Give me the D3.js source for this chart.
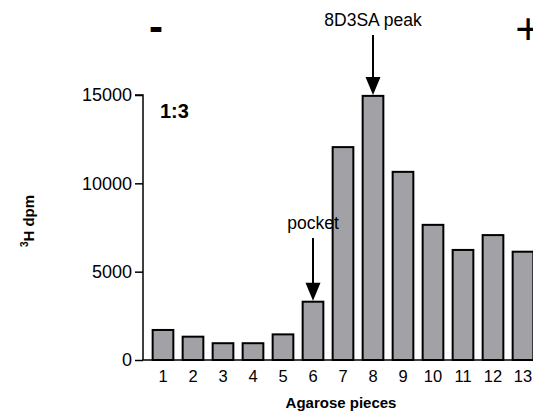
<!DOCTYPE html>
<html>
<head>
<meta charset="utf-8">
<script src="https://cdn.jsdelivr.net/npm/d3@7"></script>
<style>
  body { margin: 0; background: #fff; }
  svg { display: block; font-family: Arial, "Liberation Sans", sans-serif; }
</style>
</head>
<body>
<div id="chart"></div>
<script>
const pieces = ['1', '2', '3', '4', '5', '6', '7', '8', '9', '10', '11', '12', '13'];
const dpm = [1700, 1320, 950, 950, 1450, 3300, 12050, 14950, 10650, 7650, 6230, 7070, 6130];
const yTicks = [0, 5000, 10000, 15000];

const width = 533;
const height = 414;
const margin = { top: 95, left: 143, bottom: 54 };

const svg = d3
  .select('#chart')
  .append('svg')
  .attr('width', width)
  .attr('height', height);

const x = d3
  .scaleBand()
  .domain(pieces)
  .range([margin.left + 5, margin.left + 395])
  .paddingInner(0.31)
  .paddingOuter(0.155);

const y = d3
  .scaleLinear()
  .domain([0, 15000])
  .range([height - margin.bottom, margin.top]);

// bars
svg
  .append('g')
  .selectAll('rect')
  .data(dpm)
  .join('rect')
  .attr('x', (d, i) => x(pieces[i]))
  .attr('y', d => y(d))
  .attr('width', x.bandwidth())
  .attr('height', d => y(0) - y(d))
  .attr('fill', '#a2a2a6')
  .attr('stroke', '#000')
  .attr('stroke-width', 2);

// y axis
const yAxis = svg
  .append('g')
  .attr('transform', `translate(${margin.left}, 0)`)
  .call(d3.axisLeft(y).tickValues(yTicks).tickSize(8).tickPadding(3).tickFormat(d3.format('d')));

yAxis.select('.domain').attr('stroke-width', 1.5).attr('d', `M-8,${y(15000)}H0V${y(0)}`);
yAxis.selectAll('.tick line').attr('stroke-width', 1.5);
yAxis.selectAll('.tick text').style('font-size', '18px').attr('fill', '#000');

// x axis
const xAxis = svg
  .append('g')
  .attr('transform', `translate(0, ${y(0)})`)
  .call(d3.axisBottom(x).tickSize(0).tickPadding(10));

xAxis.select('.domain').attr('stroke-width', 1.5).attr('d', `M${margin.left},0H${width}`);
xAxis.selectAll('.tick text').style('font-size', '16.5px').attr('fill', '#000');

// axis titles
svg
  .append('text')
  .attr('x', 341)
  .attr('y', 408)
  .attr('text-anchor', 'middle')
  .style('font-size', '15px')
  .style('font-weight', 'bold')
  .text('Agarose pieces');

const yTitle = svg
  .append('text')
  .attr('transform', 'translate(32, 221) rotate(-90)')
  .attr('text-anchor', 'middle')
  .style('font-size', '15px')
  .style('font-weight', 'bold');
yTitle.append('tspan').attr('dy', '-0.45em').style('font-size', '10px').text('3');
yTitle.append('tspan').attr('dy', '0.45em').text('H dpm');

// annotations
svg
  .append('text')
  .attr('x', 160)
  .attr('y', 118)
  .style('font-size', '20px')
  .style('font-weight', 'bold')
  .text('1:3');

svg
  .append('text')
  .attr('x', 156)
  .attr('y', 41)
  .attr('text-anchor', 'middle')
  .style('font-size', '42px')
  .style('font-weight', 'bold')
  .text('-');

svg
  .append('text')
  .attr('x', 528)
  .attr('y', 44)
  .attr('text-anchor', 'middle')
  .style('font-size', '44px')
  .text('+');

const arrow = (label, idx, textY, startY) => {
  const cx = x(pieces[idx]) + x.bandwidth() / 2;
  const tip = y(dpm[idx]) - 1;
  svg
    .append('text')
    .attr('x', cx)
    .attr('y', textY)
    .attr('text-anchor', 'middle')
    .style('font-size', '17.5px')
    .text(label);
  svg
    .append('line')
    .attr('x1', cx)
    .attr('x2', cx)
    .attr('y1', startY)
    .attr('y2', tip - 16)
    .attr('stroke', '#000')
    .attr('stroke-width', 2);
  svg
    .append('path')
    .attr('d', `M${cx - 7.5},${tip - 18}L${cx + 7.5},${tip - 18}L${cx},${tip}Z`)
    .attr('fill', '#000');
};

arrow('8D3SA peak', 7, 26, 35);
arrow('pocket', 5, 229, 238);
</script>
</body>
</html>
